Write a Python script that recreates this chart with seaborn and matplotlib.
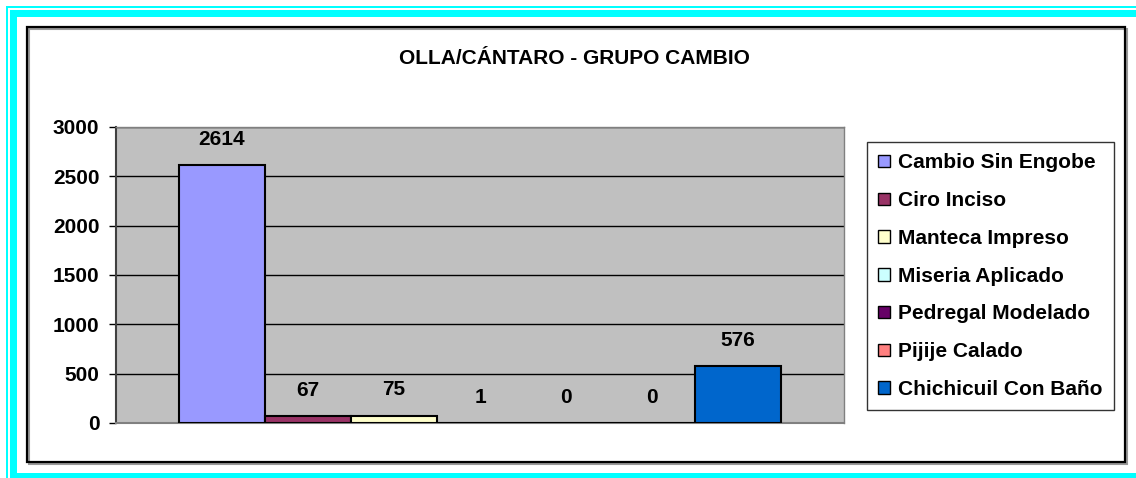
import matplotlib
matplotlib.use("Agg")
import pandas as pd
import seaborn as sns
import matplotlib.pyplot as plt
from matplotlib.patches import Rectangle

title = "OLLA/CÁNTARO - GRUPO CAMBIO"
names = ["Cambio Sin Engobe", "Ciro Inciso", "Manteca Impreso", "Miseria Aplicado",
         "Pedregal Modelado", "Pijije Calado", "Chichicuil Con Baño"]
counts = [2614, 67, 75, 1, 0, 0, 576]
colors = ["#9999FF", "#993366", "#FFFFCC", "#CCFFFF", "#660066", "#FF8080", "#0066CC"]
yticks = [0, 500, 1000, 1500, 2000, 2500, 3000]

W, H = 1136, 478
sns.set_style("white")
plt.rcParams["font.family"] = ["Liberation Sans", "DejaVu Sans"]
plt.rcParams["font.weight"] = "bold"
plt.rcParams["text.color"] = "black"
plt.rcParams["ytick.color"] = "black"

fig = plt.figure(figsize=(W / 100, H / 100), dpi=100)

# cyan page border + black chart frame (pixel coords -> figure coords)
def px_rect(x0, y0, x1, y1, **kw):
    fig.patches.append(Rectangle((x0 / W, 1 - y1 / H), (x1 - x0) / W, (y1 - y0) / H,
                                 transform=fig.transFigure, figure=fig, **kw))

cyan = "#00FFFF"
px_rect(6, 6, W, 8, color=cyan, lw=0)
px_rect(10, 10, W, 17, color=cyan, lw=0)
px_rect(6, 6, 8, H, color=cyan, lw=0)
px_rect(10, 10, 17, H, color=cyan, lw=0)
px_rect(10, 473, W, H, color=cyan, lw=0)
px_rect(29, 29, 1127, 464, facecolor="none", edgecolor="#999999", lw=1.5)
px_rect(27, 27, 1125, 462, facecolor="none", edgecolor="black", lw=1.6)

fig.text(574 / W, 1 - 58 / H, title, ha="center", va="center", fontsize=15,
         fontweight="bold", color="black")

ax = fig.add_axes([116 / W, (H - 423) / H, 728 / W, 296 / H])
ax.set_facecolor("#C0C0C0")

df = pd.DataFrame({"name": names, "count": counts})
sns.barplot(data=df, x="name", y="count", hue="name", palette=colors, width=1.0,
            saturation=1, edgecolor="black", linewidth=1.5, legend=True, ax=ax, zorder=3)

for i, v in enumerate(counts):
    ax.annotate(str(v), (i, v), xytext=(0, 18.5), textcoords="offset points",
                ha="center", va="center", fontsize=15, fontweight="bold",
                color="black", zorder=4)

ax.set_xlim(-1.233, 7.233)
ax.set_ylim(0, 3000)
ax.set_yticks(yticks)
ax.set_yticklabels([str(t) for t in yticks], fontsize=15, fontweight="bold")
ax.set_xticks([])
ax.set_xlabel("")
ax.set_ylabel("")
ax.yaxis.grid(True, color="black", lw=1, zorder=0)
ax.set_axisbelow(True)
ax.tick_params(axis="y", left=True, length=5, width=1, pad=7, color="black",
               labelcolor="black")
for s in ["top", "right"]:
    ax.spines[s].set_color("#808080")
    ax.spines[s].set_linewidth(1)
ax.spines["left"].set_color("#404040")
ax.spines["left"].set_linewidth(1.5)
ax.spines["bottom"].set_color("#808080")
ax.spines["bottom"].set_linewidth(1.5)

handles, labels = ax.get_legend_handles_labels()
ax.get_legend().remove()
leg = fig.legend(handles, labels, loc="upper left",
                 bbox_to_anchor=(867 / W, 1 - 142 / H), bbox_transform=fig.transFigure,
                 frameon=True, fancybox=False, shadow=False, borderaxespad=0,
                 prop={"size": 15, "weight": "bold"}, handlelength=0.55,
                 handleheight=0.55, handletextpad=0.4, labelspacing=0.9,
                 borderpad=0.55)
leg.get_frame().set_edgecolor("black")
leg.get_frame().set_linewidth(1)
for t in leg.get_texts():
    t.set_color("black")
for h in leg.legend_handles:
    h.set_edgecolor("black")
    h.set_linewidth(1)

fig.savefig("out.png", dpi=100, facecolor="white")
